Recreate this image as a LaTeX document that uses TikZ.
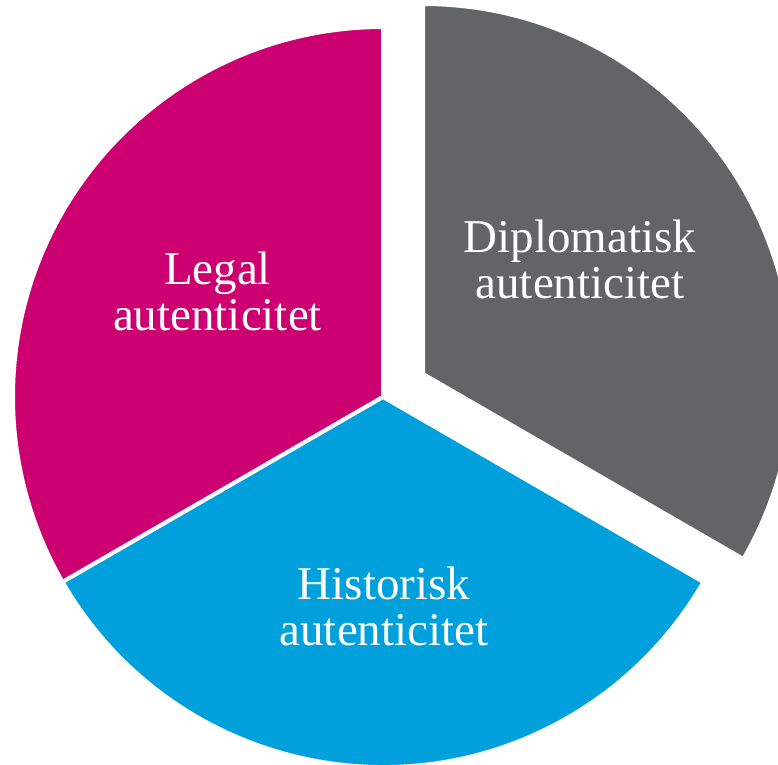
\documentclass[tikz,border=0pt]{standalone}
\usepackage{fontspec}
\setmainfont{Liberation Serif}
\definecolor{legalred}{HTML}{CC0070}
\definecolor{diplgrey}{HTML}{636466}
\definecolor{histblue}{HTML}{00A0DC}

\begin{document}
\begin{tikzpicture}[x=1pt,y=1pt,
  slice/.style={draw=white,line width=4pt,line join=round},
  lbl/.style={text=white,align=center,anchor=base,inner sep=0pt,
    font=\fontsize{47}{46}\selectfont}]
  \useasboundingbox (0,0) rectangle (778,764);
  \clip (0,0) rectangle (778,764);

  % pie centre and centre of the pulled-out slice
  \coordinate (ctr) at (383,367);
  \coordinate (gctr) at (423,390);

  % three slices of 120 degrees each
  \filldraw[slice,fill=legalred] (ctr) -- ++(90:370)
       arc[start angle=90,end angle=210,radius=370] -- cycle;
  \filldraw[slice,fill=histblue] (ctr) -- ++(210:370)
       arc[start angle=210,end angle=330,radius=370] -- cycle;
  \filldraw[slice,fill=diplgrey] (gctr) -- ++(-30:370)
       arc[start angle=-30,end angle=90,radius=370] -- cycle;

  % labels (anchored at the baseline of the last line)
  \node[lbl] (legal) at (217.5,434) {Legal\\autenticitet};
  \node[lbl] (dipl)  at (580,465)   {Diplomatisk\\autenticitet};
  \node[lbl] (hist)  at (384,119)   {Historisk\\autenticitet};
\end{tikzpicture}
\end{document}
